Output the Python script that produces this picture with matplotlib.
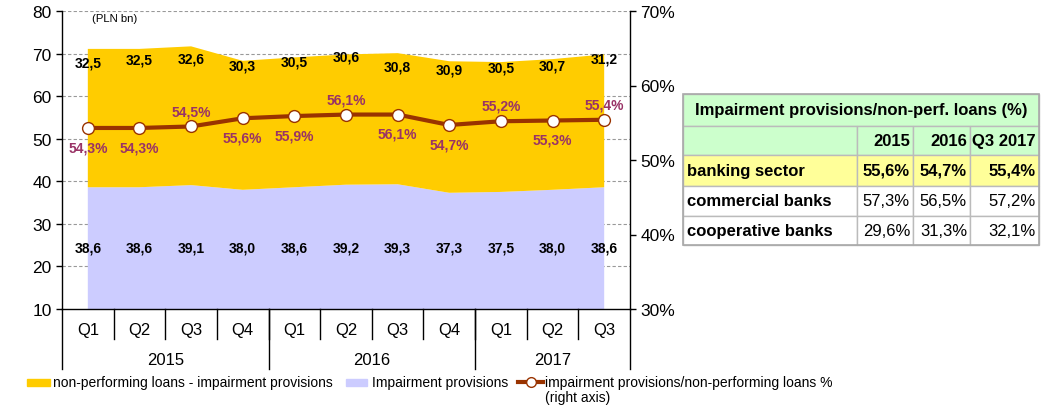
import matplotlib.pyplot as plt
from matplotlib.patches import Rectangle
from matplotlib.lines import Line2D
import numpy as np

plt.rcParams['font.family'] = ['Liberation Sans', 'DejaVu Sans']

# quarterly data, PLN bn
quarters = ['Q1', 'Q2', 'Q3', 'Q4', 'Q1', 'Q2', 'Q3', 'Q4', 'Q1', 'Q2', 'Q3']
years = ['2015', '2016', '2017']
impairment = [38.6, 38.6, 39.1, 38.0, 38.6, 39.2, 39.3, 37.3, 37.5, 38.0, 38.6]
npl_net = [32.5, 32.5, 32.6, 30.3, 30.5, 30.6, 30.8, 30.9, 30.5, 30.7, 31.2]
coverage = [54.3, 54.3, 54.5, 55.6, 55.9, 56.1, 56.1, 54.7, 55.2, 55.3, 55.4]

# table
tbl_title = 'Impairment provisions/non-perf. loans (%)'
tbl_cols = ['2015', '2016', 'Q3 2017']
tbl_rows = ['banking sector', 'commercial banks', 'cooperative banks']
tbl_vals = [['55,6%', '54,7%', '55,4%'],
            ['57,3%', '56,5%', '57,2%'],
            ['29,6%', '31,3%', '32,1%']]

YELLOW = '#FFCC00'
LAVENDER = '#CCCCFF'
LINE = '#993300'
PCT = '#993366'

x = np.arange(len(quarters))
total = np.array(impairment) + np.array(npl_net)

fig = plt.figure(figsize=(10.45, 4.06), dpi=100)
ax = fig.add_axes([62/1045, 96/406, 568/1045, 298/406])

ax.stackplot(x, impairment, npl_net, colors=[LAVENDER, YELLOW], zorder=2)
ax.set_xlim(-0.5, 10.5)
ax.set_ylim(10, 80)
ax.set_yticks(range(10, 81, 10))
for v in range(20, 81, 10):
    ax.axhline(v, color='#999999', lw=0.8, ls=(0, (3, 2)), zorder=1)
ax.set_xticks([])
ax.tick_params(axis='y', labelsize=12.5, length=4, width=1, direction='out')
for s in ['top', 'right']:
    ax.spines[s].set_visible(False)
ax.spines['left'].set_linewidth(1)
ax.spines['bottom'].set_linewidth(1)

# value labels inside the areas
top_drop = [3.1, 2.4, 2.8, 1.0, 0.9, 0.4, 3.1, 1.9, 1.2, 1.4, 0.9]
for i in range(len(x)):
    ax.text(x[i], total[i] - top_drop[i], f'{npl_net[i]:.1f}'.replace('.', ','),
            ha='center', va='center', fontsize=10, fontweight='bold', zorder=5)
    ax.text(x[i], 24.5, f'{impairment[i]:.1f}'.replace('.', ','),
            ha='center', va='center', fontsize=10, fontweight='bold', zorder=5)
ax.text(0.053, 0.975, '(PLN bn)', transform=ax.transAxes, fontsize=8.2, va='center')

# right axis: coverage ratio
ax2 = ax.twinx()
ax2.set_ylim(30, 70)
ax2.set_yticks(range(30, 71, 10))
ax2.set_yticklabels([f'{v}%' for v in range(30, 71, 10)])
ax2.tick_params(axis='y', labelsize=12.5, length=4, width=1, direction='out')
for s in ['top', 'left', 'bottom']:
    ax2.spines[s].set_visible(False)
ax2.spines['right'].set_linewidth(1)
ax2.plot(x, coverage, color=LINE, lw=3, marker='o', ms=8.5,
         mfc='white', mec=LINE, mew=1, zorder=4)
side = ['b', 'b', 'a', 'b', 'b', 'a', 'b', 'b', 'a', 'b', 'a']
for i in range(len(x)):
    off = -14 if side[i] == 'b' else 11
    ax2.annotate(f'{coverage[i]:.1f}%'.replace('.', ','), (x[i], coverage[i]),
                 xytext=(0, off), textcoords='offset points', ha='center',
                 va='center', fontsize=10, fontweight='bold', color=PCT)

# category axis: quarters and years
trans = ax.get_xaxis_transform()
for i, q in enumerate(quarters):
    ax.text(x[i], -0.07, q, transform=trans, ha='center', va='center', fontsize=12)
for b in np.arange(0.5, 10, 1):
    ax.plot([b, b], [0, -0.1], transform=trans, color='black', lw=1, clip_on=False)
for b in [-0.5, 3.5, 7.5, 10.5]:
    ax.plot([b, b], [0, -0.2], transform=trans, color='black', lw=1, clip_on=False)
year_mid = [1.5, 5.5, 9.0]
for yr, m in zip(years, year_mid):
    ax.text(m, -0.17, yr, transform=trans, ha='center', va='center', fontsize=12)

# legend
W, H = 1045, 406
def fx(px):
    return px / W
def fy(py):
    return 1 - py / H
fig.patches.append(Rectangle((fx(27), fy(387)), fx(23), 7/H, color=YELLOW, transform=fig.transFigure))
fig.text(fx(53), fy(383), 'non-performing loans - impairment provisions', fontsize=10, va='center')
fig.patches.append(Rectangle((fx(346), fy(387)), fx(21), 7/H, color=LAVENDER, transform=fig.transFigure))
fig.text(fx(372), fy(383), 'Impairment provisions', fontsize=10, va='center')
fig.lines.append(Line2D([fx(518), fx(543)], [fy(383), fy(383)], color=LINE, lw=3,
                        transform=fig.transFigure))
fig.lines.append(Line2D([fx(530.5)], [fy(383)], marker='o', ms=7, mfc='white', mec=LINE,
                        mew=1, transform=fig.transFigure))
fig.text(fx(545), fy(383), 'impairment provisions/non-performing loans %', fontsize=10, va='center')
fig.text(fx(545), fy(398), '(right axis)', fontsize=10, va='center')

# table on the right
col_x = [683, 857, 913, 970, 1039]
row_y = [95, 127, 156, 187, 217, 246]
GREEN = '#CCFFCC'
LYEL = '#FFFF99'
GRID = '#BBBBBB'
TFS = 12

def cell(x0, y0, x1, y1, fc):
    fig.patches.append(Rectangle((fx(x0), fy(y1)), fx(x1 - x0), (y1 - y0)/H, fc=fc,
                                 ec=GRID, lw=1, transform=fig.transFigure))

cell(col_x[0], row_y[0], col_x[-1], row_y[1], GREEN)
fig.text(fx((col_x[0] + col_x[-1]) / 2), fy((row_y[0] + row_y[1]) / 2), tbl_title,
         ha='center', va='center', fontsize=TFS, fontweight='bold')
for j in range(4):
    cell(col_x[j], row_y[1], col_x[j+1], row_y[2], GREEN)
for j, c in enumerate(tbl_cols):
    fig.text(fx(col_x[j+2] - 3), fy((row_y[1] + row_y[2]) / 2), c,
             ha='right', va='center', fontsize=TFS, fontweight='bold')
for r, name in enumerate(tbl_rows):
    y0, y1 = row_y[r+2], row_y[r+3]
    fc = LYEL if r == 0 else 'white'
    for j in range(4):
        cell(col_x[j], y0, col_x[j+1], y1, fc)
    fig.text(fx(col_x[0] + 4), fy((y0 + y1) / 2), name, ha='left', va='center',
             fontsize=TFS, fontweight='bold')
    for j, v in enumerate(tbl_vals[r]):
        fig.text(fx(col_x[j+2] - 3), fy((y0 + y1) / 2), v, ha='right', va='center',
                 fontsize=TFS, fontweight='bold' if r == 0 else 'normal')
fig.patches.append(Rectangle((fx(col_x[0]), fy(row_y[-1])), fx(col_x[-1] - col_x[0]),
                             (row_y[-1] - row_y[0])/H, fc='none', ec='#AAAAAA', lw=1.2,
                             transform=fig.transFigure))

fig.savefig('out.png', dpi=100)
